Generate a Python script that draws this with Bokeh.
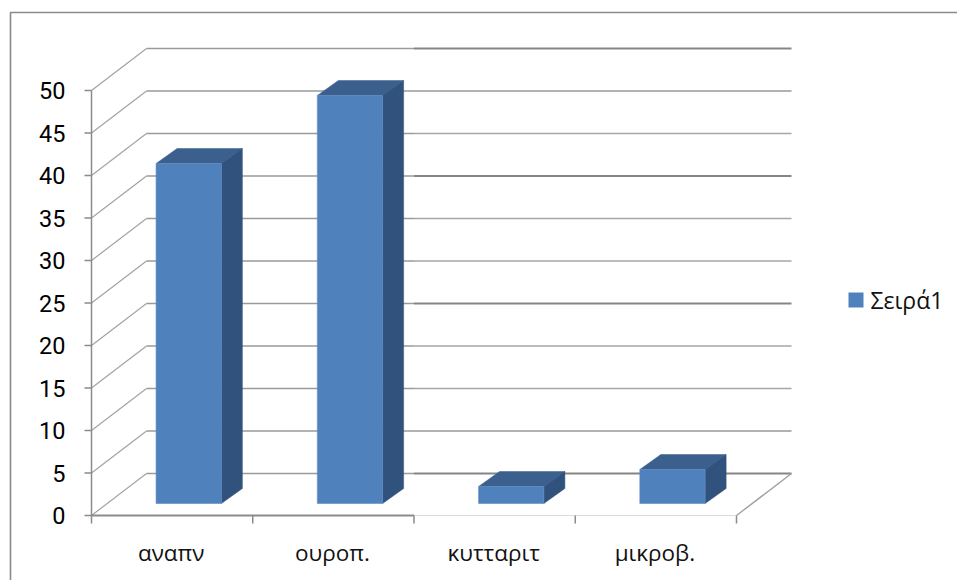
from bokeh.core.properties import value
from bokeh.embed import file_html
from bokeh.models import Range1d
from bokeh.plotting import figure
from bokeh.resources import INLINE

# Data
categories = ["αναπν", "ουροπ.", "κυτταριτ", "μικροβ."]
series_name = "Σειρά1"
series_values = [40, 48, 2, 4]
tick_values = [0, 5, 10, 15, 20, 25, 30, 35, 40, 45, 50]

# Page and scale geometry, in screen pixels
W, H = 957, 580
X0, Y0 = 91, 515
CAT_PX = 161.25
UNIT_PX = 8.5
WALL_DX, WALL_DY = 55, 42      # oblique shift of the back wall
BAR_FRONT = (16.6, 12)         # shift of a column's front face
BAR_BACK = (37.6, 27)          # shift of a column's rear face
BAR_WIDTH = 0.405

FRONT = "#4f81bd"
TOP = "#3b608e"
SIDE = "#30527c"
AXIS = "#8b8b8b"
INK = "#000000"

p = figure(width=W, height=H, output_backend="svg", toolbar_location=None,
           x_range=Range1d(-X0 / CAT_PX, (W - X0) / CAT_PX),
           y_range=Range1d((Y0 - H) / UNIT_PX, Y0 / UNIT_PX),
           min_border=0, x_axis_type=None, y_axis_type=None,
           background_fill_color="white", border_fill_color="white",
           outline_line_color=None)
p.grid.visible = False


def shift_x(px):
    return px / CAT_PX


def shift_y(px):
    return px / UNIT_PX


x_left, x_right = -X0 / CAT_PX, (W - X0) / CAT_PX
y_bottom, y_top = (Y0 - H) / UNIT_PX, Y0 / UNIT_PX
n = len(categories)

# Outer chart frame: runs off the right and bottom of the page
frame_x = x_left + 10 / CAT_PX
frame_y = y_top - 12 / UNIT_PX
p.line([frame_x, frame_x, x_right], [y_bottom, frame_y, frame_y],
       line_color="#8a8a8a", line_width=1.6)

# Back wall grid lines and the side-wall slants; the right part of the wall
# has heavier rules at every third interval
heavy = {0, 20, 35, 50}
medium = {5, 45}
sx, sy = shift_x(WALL_DX), shift_y(WALL_DY)
for t in tick_values:
    p.line([0, sx], [t, t + sy], line_color="#a3a3a3", line_width=1.2)
    p.line([sx, 2], [t + sy, t + sy], line_color="#9a9a9a", line_width=1.4)
    if t in heavy:
        color, width = "#858585", 2.0
    elif t in medium:
        color, width = "#999999", 1.7
    else:
        color, width = "#a6a6a6", 1.3
    p.line([2, n + sx], [t + sy, t + sy], line_color=color, line_width=width)

# Floor: right slant and front edge
p.line([n, n + sx], [0, sy], line_color="#a0a0a0", line_width=1.4)
p.line([0, 2], [0, 0], line_color=AXIS, line_width=2)
p.line([2, n], [0, 0], line_color="#dcdcdc", line_width=1.2)

# Value axis and its ticks
p.line([0, 0], [0, tick_values[-1]], line_color=AXIS, line_width=1.5)
for t in tick_values:
    p.line([-7 / CAT_PX, 0], [t, t], line_color=AXIS, line_width=1.5)
for i in range(n + 1):
    p.line([i, i], [0, -shift_y(8)], line_color=AXIS, line_width=1.5)

# Columns: front face, roof, side
fx, fy = shift_x(BAR_FRONT[0]), shift_y(BAR_FRONT[1])
bx, by = shift_x(BAR_BACK[0]), shift_y(BAR_BACK[1])
for i, v in enumerate(series_values):
    left = i + 0.5 - BAR_WIDTH / 2
    right = i + 0.5 + BAR_WIDTH / 2
    p.patch([left + fx, right + fx, right + bx, left + bx],
            [v + fy, v + fy, v + by, v + by],
            fill_color=TOP, line_color=TOP, line_width=0.5)
    p.patch([right + fx, right + bx, right + bx, right + fx],
            [fy, by, v + by, v + fy],
            fill_color=SIDE, line_color=SIDE, line_width=0.5)
    p.patch([left + fx, right + fx, right + fx, left + fx],
            [fy, fy, v + fy, v + fy],
            fill_color=FRONT, line_color="#5f8cc4", line_width=0.6)

# Value labels
p.text(x=[-26 / CAT_PX] * len(tick_values), y=tick_values,
       text=[str(t) for t in tick_values],
       text_align="right", text_baseline="middle", text_color=INK,
       text_font=value("Roboto"), text_font_size="23.5px")

# Category labels
p.text(x=[i + 0.5 - shift_x(1) for i in range(n)], y=[-shift_y(37)] * n,
       text=categories,
       text_align="center", text_baseline="middle", text_color="#111111",
       text_font=value("Open Sans"), text_font_size="22.5px")

# Legend
lx = x_left + 848 / CAT_PX
ly = y_top - 299.5 / UNIT_PX
p.rect(x=[lx + 7.5 / CAT_PX], y=[ly], width=15 / CAT_PX, height=15 / UNIT_PX,
       fill_color=FRONT, line_color=None)
p.text(x=[lx + 22 / CAT_PX], y=[ly], text=[series_name],
       text_align="left", text_baseline="middle", text_color="#111111",
       text_font=value("Open Sans"), text_font_size="23px")

open("out.html", "w").write(file_html(p, INLINE))
